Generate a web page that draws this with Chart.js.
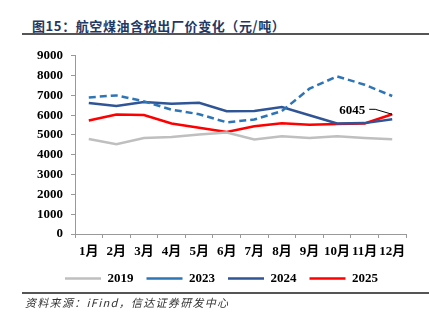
<!DOCTYPE html>
<html>
<head>
<meta charset="utf-8">
<script src="https://cdn.jsdelivr.net/npm/chart.js@4.4.0/dist/chart.umd.min.js"></script>
<style>
  body { margin: 0; width: 429px; height: 323px; background: #fff; position: relative; overflow: hidden; }
  #title { position: absolute; left: 32px; top: 16px; font: bold 13px "Noto Sans CJK SC", sans-serif; color: #1f3864; white-space: nowrap; letter-spacing: 0.6px; }
  .rule { position: absolute; left: 22px; right: 0; height: 1.5px; background: #555; }
  #source { position: absolute; left: 25px; top: 294px; font: italic 11px "Noto Sans CJK SC", sans-serif; color: #333; white-space: nowrap; letter-spacing: 1.3px; }
  #wrap { position: absolute; left: 37px; top: 40px; width: 392px; height: 255px; }
</style>
</head>
<body>
<div id="title">图15：航空煤油含税出厂价变化（元/吨）</div>
<div class="rule" style="top:33px"></div>
<div id="wrap"><canvas id="c"></canvas></div>
<div class="rule" style="top:292px"></div>
<div id="source">资料来源：iFind，信达证券研发中心</div>
<script>
const months = ["1月", "2月", "3月", "4月", "5月", "6月", "7月", "8月", "9月", "10月", "11月", "12月"];
const y2019 = [4800, 4530, 4850, 4900, 5020, 5130, 4770, 4940, 4850, 4940, 4850, 4790];
const y2023 = [6900, 7000, 6700, 6280, 6050, 5640, 5780, 6210, 7340, 7960, 7540, 6970];
const y2024 = [6620, 6470, 6670, 6580, 6630, 6200, 6210, 6410, 6000, 5580, 5600, 5790];
const y2025 = [5730, 6030, 6010, 5580, 5370, 5150, 5440, 5590, 5520, 5560, 5580, 6045];
const yTicks = [0, 1000, 2000, 3000, 4000, 5000, 6000, 7000, 8000, 9000];

const serif = "'Liberation Serif', 'Times New Roman', 'Noto Sans CJK SC', serif";

// label for the last 2025 value, with a short leader line
const lastLabel = {
  id: "lastLabel",
  afterDatasetsDraw(chart) {
    const ctx = chart.ctx;
    const i = y2025.length - 1;
    const px = chart.scales.x.getPixelForValue(i);
    const py = chart.scales.y.getPixelForValue(y2025[i]);
    ctx.save();
    ctx.fillStyle = "#000";
    ctx.font = "bold 13px " + serif;
    ctx.textAlign = "right";
    ctx.textBaseline = "middle";
    ctx.fillText(String(y2025[i]), px - 27, py - 4);
    ctx.strokeStyle = "#000";
    ctx.lineWidth = 1;
    ctx.beginPath();
    ctx.moveTo(px - 23, py - 5);
    ctx.lineTo(px - 17, py - 5);
    ctx.lineTo(px, py);
    ctx.stroke();
    ctx.restore();
  }
};

new Chart(document.getElementById("c"), {
  type: "line",
  data: {
    labels: months,
    datasets: [
      { label: "2019", data: y2019, borderColor: "#bfbfbf", backgroundColor: "#bfbfbf", borderWidth: 2.5 },
      { label: "2023", data: y2023, borderColor: "#2e75b6", backgroundColor: "#2e75b6", borderWidth: 2.5, borderDash: [7, 4] },
      { label: "2024", data: y2024, borderColor: "#2f5597", backgroundColor: "#2f5597", borderWidth: 2.5 },
      { label: "2025", data: y2025, borderColor: "#ff0000", backgroundColor: "#ff0000", borderWidth: 2.5 }
    ]
  },
  options: {
    responsive: true,
    maintainAspectRatio: false,
    animation: false,
    elements: { point: { radius: 0 }, line: { tension: 0 } },
    layout: { padding: { left: 0, right: 23, top: 14, bottom: 0 } },
    plugins: {
      tooltip: { enabled: false },
      legend: {
        position: "bottom",
        labels: {
          usePointStyle: true,
          pointStyle: "line",
          pointStyleWidth: 36,
          padding: 13,
          color: "#000",
          font: { family: serif, size: 13, weight: "bold" }
        }
      }
    },
    scales: {
      x: {
        offset: true,
        afterFit(scale) { scale.height = 25; },
        grid: { offset: true, drawOnChartArea: false, drawTicks: true, tickLength: 4, color: "#999" },
        border: { display: true, color: "#999" },
        ticks: { color: "#000", padding: 6, maxRotation: 0, autoSkip: false, font: { family: serif, size: 13, weight: "bold" } }
      },
      y: {
        min: 0,
        max: 9000,
        afterFit(scale) { scale.width = 38; },
        afterBuildTicks(scale) { scale.ticks = yTicks.map(v => ({ value: v })); },
        grid: { drawOnChartArea: false, drawTicks: true, tickLength: 4, color: "#999" },
        border: { display: true, color: "#999" },
        ticks: {
          color: "#000", padding: 8, autoSkip: false,
          font: { family: serif, size: 13, weight: "bold" },
          callback: (v) => String(v)
        }
      }
    }
  },
  plugins: [lastLabel]
});
</script>
</body>
</html>
